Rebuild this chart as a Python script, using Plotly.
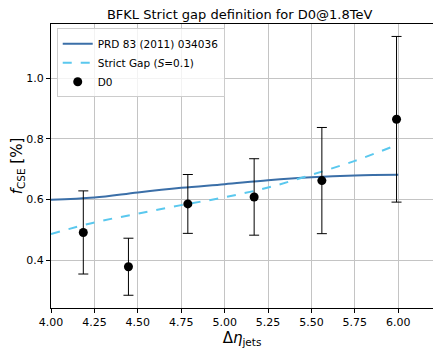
import plotly.graph_objects as go

# PRD 83 (2011) 034036 prediction
prd_x = [4.00, 4.25, 4.50, 4.75, 5.00, 5.25, 5.50, 5.75, 6.00]
prd_y = [0.599, 0.606, 0.623, 0.638, 0.650, 0.663, 0.673, 0.679, 0.681]

# strict gap, S = 0.1
gap_x = [4.00, 4.25, 4.50, 4.75, 5.00, 5.25, 5.50, 5.75, 6.00]
gap_y = [0.486, 0.524, 0.553, 0.581, 0.607, 0.639, 0.681, 0.727, 0.781]

# D0 data
d0_x = [4.186, 4.446, 4.788, 5.170, 5.560, 5.990]
d0_y = [0.491, 0.378, 0.585, 0.608, 0.662, 0.864]
d0_err = [0.137, 0.094, 0.097, 0.126, 0.175, 0.273]

x_ticks = [4.00, 4.25, 4.50, 4.75, 5.00, 5.25, 5.50, 5.75, 6.00]
y_ticks = [0.4, 0.6, 0.8, 1.0]

fig = go.Figure()

fig.add_trace(go.Scatter(
    x=prd_x, y=prd_y, mode='lines', name='PRD 83 (2011) 034036',
    line=dict(color='#3b6fa8', width=2, shape='spline'),
))
fig.add_trace(go.Scatter(
    x=gap_x, y=gap_y, mode='lines', name='Strict Gap (<i>S</i>=0.1)',
    line=dict(color='#5ac8ee', width=2, dash='dash', shape='spline'),
))
fig.add_trace(go.Scatter(
    x=d0_x, y=d0_y, mode='markers', name='D0',
    marker=dict(color='black', size=9),
    error_y=dict(type='data', array=d0_err, color='black', thickness=1, width=5),
))

axis_common = dict(
    showline=True, linecolor='black', linewidth=1, mirror=True,
    ticks='outside', ticklen=4, tickcolor='black',
    showgrid=True, gridcolor='#c4c4c4', gridwidth=1,
    zeroline=False, tickfont=dict(size=11, color='black'),
    automargin=False,
)

# page body has an 8px margin, so the figure is sized to fit the window
fig.update_layout(
    width=433, height=347,
    template='plotly_white',
    font=dict(family='DejaVu Sans', color='black'),
    title=dict(text='BFKL Strict gap definition for D0@1.8TeV', x=0.535, xanchor='center',
               yref='container', y=1.0, yanchor='top', pad=dict(t=2, b=0),
               font=dict(size=13)),
    xaxis=dict(axis_common, range=[4.0, 6.2], tickvals=x_ticks,
               ticktext=[f'{v:.2f}' for v in x_ticks],
               title=dict(text='Δ<i>η</i><sub>jets</sub>', font=dict(size=15), standoff=2)),
    yaxis=dict(axis_common, range=[0.242, 1.178], tickvals=y_ticks,
               ticktext=[f'{v:.1f}' for v in y_ticks],
               title=dict(text='<i>f</i><sub>CSE</sub> [%]', font=dict(size=15), standoff=4)),
    legend=dict(x=0.015, y=0.985, xanchor='left', yanchor='top',
                bgcolor='rgba(255,255,255,0.8)', bordercolor='#cccccc', borderwidth=1,
                font=dict(size=10.5), tracegroupgap=0, itemwidth=30),
    showlegend=True,
    margin=dict(l=43, r=8, t=16, b=47),
    plot_bgcolor='white', paper_bgcolor='white',
)

fig.write_html('out.html')
